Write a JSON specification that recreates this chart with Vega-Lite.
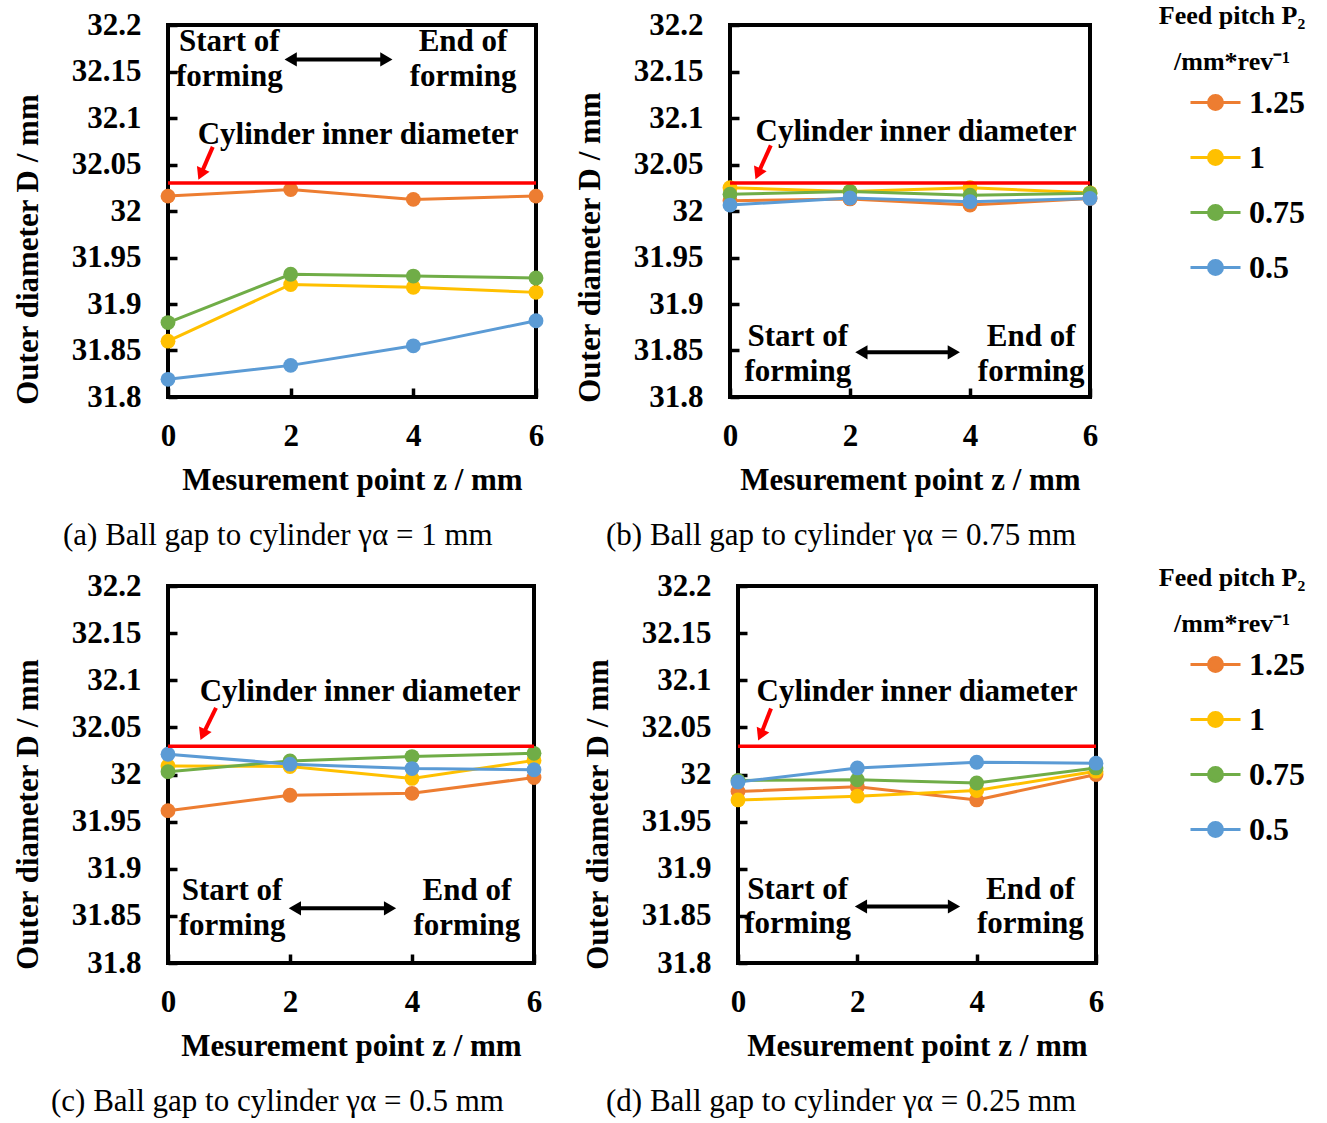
{
  "$schema": "https://vega.github.io/schema/vega-lite/v6.json",
  "background": "white",
  "padding": {"left": 10, "top": 3, "right": 5, "bottom": 5},
  "datasets": {
    "meas": [
      {"panel":"a","pitch":"1.25","z":0,"D":32.016},{"panel":"a","pitch":"1.25","z":2,"D":32.023},{"panel":"a","pitch":"1.25","z":4,"D":32.0125},{"panel":"a","pitch":"1.25","z":6,"D":32.016},
      {"panel":"a","pitch":"1","z":0,"D":31.860},{"panel":"a","pitch":"1","z":2,"D":31.921},{"panel":"a","pitch":"1","z":4,"D":31.918},{"panel":"a","pitch":"1","z":6,"D":31.9125},
      {"panel":"a","pitch":"0.75","z":0,"D":31.880},{"panel":"a","pitch":"0.75","z":2,"D":31.932},{"panel":"a","pitch":"0.75","z":4,"D":31.930},{"panel":"a","pitch":"0.75","z":6,"D":31.928},
      {"panel":"a","pitch":"0.5","z":0,"D":31.819},{"panel":"a","pitch":"0.5","z":2,"D":31.834},{"panel":"a","pitch":"0.5","z":4,"D":31.855},{"panel":"a","pitch":"0.5","z":6,"D":31.882},
      {"panel":"b","pitch":"1.25","z":0,"D":32.011},{"panel":"b","pitch":"1.25","z":2,"D":32.013},{"panel":"b","pitch":"1.25","z":4,"D":32.0064},{"panel":"b","pitch":"1.25","z":6,"D":32.0135},
      {"panel":"b","pitch":"1","z":0,"D":32.025},{"panel":"b","pitch":"1","z":2,"D":32.021},{"panel":"b","pitch":"1","z":4,"D":32.025},{"panel":"b","pitch":"1","z":6,"D":32.0195},
      {"panel":"b","pitch":"0.75","z":0,"D":32.018},{"panel":"b","pitch":"0.75","z":2,"D":32.021},{"panel":"b","pitch":"0.75","z":4,"D":32.017},{"panel":"b","pitch":"0.75","z":6,"D":32.019},
      {"panel":"b","pitch":"0.5","z":0,"D":32.0064},{"panel":"b","pitch":"0.5","z":2,"D":32.014},{"panel":"b","pitch":"0.5","z":4,"D":32.010},{"panel":"b","pitch":"0.5","z":6,"D":32.0135},
      {"panel":"c","pitch":"1.25","z":0,"D":31.9616},{"panel":"c","pitch":"1.25","z":2,"D":31.978},{"panel":"c","pitch":"1.25","z":4,"D":31.980},{"panel":"c","pitch":"1.25","z":6,"D":31.9968},
      {"panel":"c","pitch":"1","z":0,"D":32.009},{"panel":"c","pitch":"1","z":2,"D":32.0085},{"panel":"c","pitch":"1","z":4,"D":31.9958},{"panel":"c","pitch":"1","z":6,"D":32.015},
      {"panel":"c","pitch":"0.75","z":0,"D":32.003},{"panel":"c","pitch":"0.75","z":2,"D":32.0144},{"panel":"c","pitch":"0.75","z":4,"D":32.019},{"panel":"c","pitch":"0.75","z":6,"D":32.0225},
      {"panel":"c","pitch":"0.5","z":0,"D":32.0215},{"panel":"c","pitch":"0.5","z":2,"D":32.011},{"panel":"c","pitch":"0.5","z":4,"D":32.0063},{"panel":"c","pitch":"0.5","z":6,"D":32.005},
      {"panel":"d","pitch":"1.25","z":0,"D":31.982},{"panel":"d","pitch":"1.25","z":2,"D":31.987},{"panel":"d","pitch":"1.25","z":4,"D":31.973},{"panel":"d","pitch":"1.25","z":6,"D":32.000},
      {"panel":"d","pitch":"1","z":0,"D":31.973},{"panel":"d","pitch":"1","z":2,"D":31.977},{"panel":"d","pitch":"1","z":4,"D":31.983},{"panel":"d","pitch":"1","z":6,"D":32.0035},
      {"panel":"d","pitch":"0.75","z":0,"D":31.9937},{"panel":"d","pitch":"0.75","z":2,"D":31.9944},{"panel":"d","pitch":"0.75","z":4,"D":31.991},{"panel":"d","pitch":"0.75","z":6,"D":32.007},
      {"panel":"d","pitch":"0.5","z":0,"D":31.992},{"panel":"d","pitch":"0.5","z":2,"D":32.007},{"panel":"d","pitch":"0.5","z":4,"D":32.013},{"panel":"d","pitch":"0.5","z":6,"D":32.012}
    ],
    "cyl": [
      {"panel":"a","z":0,"z2":6,"D":32.03},{"panel":"b","z":0,"z2":6,"D":32.03},{"panel":"c","z":0,"z2":6,"D":32.03},{"panel":"d","z":0,"z2":6,"D":32.03}
    ],
    "redtail": [
      {"panel":"a","z":0.73,"D":32.069,"z2":0.535,"D2":32.0394},
      {"panel":"b","z":0.68,"D":32.0706,"z2":0.465,"D2":32.04},
      {"panel":"c","z":0.787,"D":32.0706,"z2":0.572,"D2":32.0423},
      {"panel":"d","z":0.553,"D":32.07,"z2":0.379,"D2":32.0418}
    ],
    "redhead": [
      {"panel":"a","z":0.535,"D":32.0394},
      {"panel":"b","z":0.465,"D":32.04},
      {"panel":"c","z":0.572,"D":32.0423},
      {"panel":"d","z":0.379,"D":32.0418}
    ],
    "darrow": [
      {"panel":"a","z":2.0,"z2":3.56,"D":32.163},
      {"panel":"b","z":2.19,"z2":3.73,"D":31.848},
      {"panel":"c","z":2.08,"z2":3.64,"D":31.858},
      {"panel":"d","z":2.06,"z2":3.62,"D":31.86}
    ],
    "dheads": [
      {"panel":"a","dir":"left","z":2.0,"D":32.163},{"panel":"a","dir":"right","z":3.56,"D":32.163},
      {"panel":"b","dir":"left","z":2.19,"D":31.848},{"panel":"b","dir":"right","z":3.73,"D":31.848},
      {"panel":"c","dir":"left","z":2.08,"D":31.858},{"panel":"c","dir":"right","z":3.64,"D":31.858},
      {"panel":"d","dir":"left","z":2.06,"D":31.86},{"panel":"d","dir":"right","z":3.62,"D":31.86}
    ],
    "txt": [
      {"panel":"a","label":"Start of","z":1.0,"D":32.182},{"panel":"a","label":"forming","z":1.0,"D":32.144},
      {"panel":"a","label":"End of","z":4.81,"D":32.182},{"panel":"a","label":"forming","z":4.81,"D":32.144},
      {"panel":"a","label":"Cylinder inner diameter","z":3.1,"D":32.082},
      {"panel":"b","label":"Start of","z":1.13,"D":31.864},{"panel":"b","label":"forming","z":1.13,"D":31.827},
      {"panel":"b","label":"End of","z":5.02,"D":31.864},{"panel":"b","label":"forming","z":5.02,"D":31.827},
      {"panel":"b","label":"Cylinder inner diameter","z":3.1,"D":32.085},
      {"panel":"c","label":"Start of","z":1.05,"D":31.876},{"panel":"c","label":"forming","z":1.05,"D":31.839},
      {"panel":"c","label":"End of","z":4.9,"D":31.876},{"panel":"c","label":"forming","z":4.9,"D":31.839},
      {"panel":"c","label":"Cylinder inner diameter","z":3.15,"D":32.088},
      {"panel":"d","label":"Start of","z":1.0,"D":31.877},{"panel":"d","label":"forming","z":1.0,"D":31.841},
      {"panel":"d","label":"End of","z":4.9,"D":31.877},{"panel":"d","label":"forming","z":4.9,"D":31.841},
      {"panel":"d","label":"Cylinder inner diameter","z":3.0,"D":32.088}
    ]
  },
  "resolve": {"legend": {"color": "independent"}},
  "spacing": 12,
  "vconcat": [
    {
      "bounds": "flush",
      "spacing": 194,
      "hconcat": [
        {
          "width": 368, "height": 372,
          "title": {"text": "(a) Ball gap to cylinder γα = 1 mm", "dx": -105},
          "encoding": {
            "x": {"field":"z","type":"quantitative","scale":{"domain":[0,6],"nice":false,"zero":false},"axis":{"values":[0,2,4,6],"title":"Mesurement point z / mm"}},
            "y": {"field":"D","type":"quantitative","scale":{"domain":[31.8,32.2],"nice":false,"zero":false},"axis":{"values":[31.8,31.85,31.9,31.95,32,32.05,32.1,32.15,32.2],"format":"~g","title":"Outer diameter D / mm","titleY":224}}
          },
          "layer": [
            {"data":{"name":"meas"},"transform":[{"filter":"datum.panel==='a'"}],"mark":{"type":"line","strokeWidth":3,"point":{"filled":true,"size":220,"opacity":1}},
             "encoding":{"color":{"field":"pitch","type":"nominal","scale":{"domain":["1.25","1","0.75","0.5"],"range":["#ED7D31","#FFC000","#70AD47","#5B9BD5"]},
               "legend":{"title":["Feed pitch P₂","/mm*rev⁻¹"],"orient":"none","legendX":991,"legendY":-22}}}},
            {"data":{"name":"cyl"},"transform":[{"filter":"datum.panel==='a'"}],"mark":{"type":"rule","color":"#FF0000","strokeWidth":3.5},"encoding":{"x2":{"field":"z2"}}},
            {"data":{"name":"redtail"},"transform":[{"filter":"datum.panel==='a'"}],"mark":{"type":"rule","color":"#FF0000","strokeWidth":4},"encoding":{"x2":{"field":"z2"},"y2":{"field":"D2"}}},
            {"data":{"name":"redhead"},"transform":[{"filter":"datum.panel==='a'"}],"mark":{"type":"point","shape":"triangle-down","filled":true,"color":"#FF0000","opacity":1,"size":190,"angle":24},"encoding":{}},
            {"data":{"name":"darrow"},"transform":[{"filter":"datum.panel==='a'"}],"mark":{"type":"rule","color":"black","strokeWidth":4},"encoding":{"x2":{"field":"z2"}}},
            {"data":{"name":"dheads"},"transform":[{"filter":"datum.panel==='a'"}],"mark":{"type":"point","filled":true,"color":"black","opacity":1,"size":200},"encoding":{"shape":{"field":"dir","type":"nominal","scale":{"domain":["left","right"],"range":["triangle-left","triangle-right"]},"legend":null}}},
            {"data":{"name":"txt"},"transform":[{"filter":"datum.panel==='a'"}],"mark":{"type":"text","fontSize":31,"fontWeight":"bold","color":"black"},"encoding":{"text":{"field":"label"}}}
          ]
        },
        {
          "width": 360, "height": 372,
          "title": {"text": "(b) Ball gap to cylinder γα = 0.75 mm", "dx": -124},
          "encoding": {
            "x": {"field":"z","type":"quantitative","scale":{"domain":[0,6],"nice":false,"zero":false},"axis":{"values":[0,2,4,6],"title":"Mesurement point z / mm"}},
            "y": {"field":"D","type":"quantitative","scale":{"domain":[31.8,32.2],"nice":false,"zero":false},"axis":{"values":[31.8,31.85,31.9,31.95,32,32.05,32.1,32.15,32.2],"format":"~g","title":"Outer diameter D / mm","titleY":222}}
          },
          "layer": [
            {"data":{"name":"meas"},"transform":[{"filter":"datum.panel==='b'"}],"mark":{"type":"line","strokeWidth":3,"point":{"filled":true,"size":220,"opacity":1}},
             "encoding":{"color":{"field":"pitch","type":"nominal","scale":{"domain":["1.25","1","0.75","0.5"],"range":["#ED7D31","#FFC000","#70AD47","#5B9BD5"]},
               "legend":{"title":["Feed pitch P₂","/mm*rev⁻¹"],"orient":"none","legendX":991,"legendY":-22}}}},
            {"data":{"name":"cyl"},"transform":[{"filter":"datum.panel==='b'"}],"mark":{"type":"rule","color":"#FF0000","strokeWidth":3.5},"encoding":{"x2":{"field":"z2"}}},
            {"data":{"name":"redtail"},"transform":[{"filter":"datum.panel==='b'"}],"mark":{"type":"rule","color":"#FF0000","strokeWidth":4},"encoding":{"x2":{"field":"z2"},"y2":{"field":"D2"}}},
            {"data":{"name":"redhead"},"transform":[{"filter":"datum.panel==='b'"}],"mark":{"type":"point","shape":"triangle-down","filled":true,"color":"#FF0000","opacity":1,"size":190,"angle":24},"encoding":{}},
            {"data":{"name":"darrow"},"transform":[{"filter":"datum.panel==='b'"}],"mark":{"type":"rule","color":"black","strokeWidth":4},"encoding":{"x2":{"field":"z2"}}},
            {"data":{"name":"dheads"},"transform":[{"filter":"datum.panel==='b'"}],"mark":{"type":"point","filled":true,"color":"black","opacity":1,"size":200},"encoding":{"shape":{"field":"dir","type":"nominal","scale":{"domain":["left","right"],"range":["triangle-left","triangle-right"]},"legend":null}}},
            {"data":{"name":"txt"},"transform":[{"filter":"datum.panel==='b'"}],"mark":{"type":"text","fontSize":31,"fontWeight":"bold","color":"black"},"encoding":{"text":{"field":"label"}}}
          ]
        }
      ]
    },
    {
      "bounds": "flush",
      "spacing": 204,
      "hconcat": [
        {
          "width": 366, "height": 377,
          "title": {"text": "(c) Ball gap to cylinder γα = 0.5 mm", "dx": -117},
          "encoding": {
            "x": {"field":"z","type":"quantitative","scale":{"domain":[0,6],"nice":false,"zero":false},"axis":{"values":[0,2,4,6],"title":"Mesurement point z / mm"}},
            "y": {"field":"D","type":"quantitative","scale":{"domain":[31.8,32.2],"nice":false,"zero":false},"axis":{"values":[31.8,31.85,31.9,31.95,32,32.05,32.1,32.15,32.2],"format":"~g","title":"Outer diameter D / mm","titleY":228}}
          },
          "layer": [
            {"data":{"name":"meas"},"transform":[{"filter":"datum.panel==='c'"}],"mark":{"type":"line","strokeWidth":3,"point":{"filled":true,"size":220,"opacity":1}},
             "encoding":{"color":{"field":"pitch","type":"nominal","scale":{"domain":["1.25","1","0.75","0.5"],"range":["#ED7D31","#FFC000","#70AD47","#5B9BD5"]},
               "legend":{"title":["Feed pitch P₂","/mm*rev⁻¹"],"orient":"none","legendX":991,"legendY":-21}}}},
            {"data":{"name":"cyl"},"transform":[{"filter":"datum.panel==='c'"}],"mark":{"type":"rule","color":"#FF0000","strokeWidth":3.5},"encoding":{"x2":{"field":"z2"}}},
            {"data":{"name":"redtail"},"transform":[{"filter":"datum.panel==='c'"}],"mark":{"type":"rule","color":"#FF0000","strokeWidth":4},"encoding":{"x2":{"field":"z2"},"y2":{"field":"D2"}}},
            {"data":{"name":"redhead"},"transform":[{"filter":"datum.panel==='c'"}],"mark":{"type":"point","shape":"triangle-down","filled":true,"color":"#FF0000","opacity":1,"size":190,"angle":24},"encoding":{}},
            {"data":{"name":"darrow"},"transform":[{"filter":"datum.panel==='c'"}],"mark":{"type":"rule","color":"black","strokeWidth":4},"encoding":{"x2":{"field":"z2"}}},
            {"data":{"name":"dheads"},"transform":[{"filter":"datum.panel==='c'"}],"mark":{"type":"point","filled":true,"color":"black","opacity":1,"size":200},"encoding":{"shape":{"field":"dir","type":"nominal","scale":{"domain":["left","right"],"range":["triangle-left","triangle-right"]},"legend":null}}},
            {"data":{"name":"txt"},"transform":[{"filter":"datum.panel==='c'"}],"mark":{"type":"text","fontSize":31,"fontWeight":"bold","color":"black"},"encoding":{"text":{"field":"label"}}}
          ]
        },
        {
          "width": 358, "height": 377,
          "title": {"text": "(d) Ball gap to cylinder γα = 0.25 mm", "dx": -132},
          "encoding": {
            "x": {"field":"z","type":"quantitative","scale":{"domain":[0,6],"nice":false,"zero":false},"axis":{"values":[0,2,4,6],"title":"Mesurement point z / mm"}},
            "y": {"field":"D","type":"quantitative","scale":{"domain":[31.8,32.2],"nice":false,"zero":false},"axis":{"values":[31.8,31.85,31.9,31.95,32,32.05,32.1,32.15,32.2],"format":"~g","title":"Outer diameter D / mm","titleY":228}}
          },
          "layer": [
            {"data":{"name":"meas"},"transform":[{"filter":"datum.panel==='d'"}],"mark":{"type":"line","strokeWidth":3,"point":{"filled":true,"size":220,"opacity":1}},
             "encoding":{"color":{"field":"pitch","type":"nominal","scale":{"domain":["1.25","1","0.75","0.5"],"range":["#ED7D31","#FFC000","#70AD47","#5B9BD5"]},
               "legend":{"title":["Feed pitch P₂","/mm*rev⁻¹"],"orient":"none","legendX":991,"legendY":-21}}}},
            {"data":{"name":"cyl"},"transform":[{"filter":"datum.panel==='d'"}],"mark":{"type":"rule","color":"#FF0000","strokeWidth":3.5},"encoding":{"x2":{"field":"z2"}}},
            {"data":{"name":"redtail"},"transform":[{"filter":"datum.panel==='d'"}],"mark":{"type":"rule","color":"#FF0000","strokeWidth":4},"encoding":{"x2":{"field":"z2"},"y2":{"field":"D2"}}},
            {"data":{"name":"redhead"},"transform":[{"filter":"datum.panel==='d'"}],"mark":{"type":"point","shape":"triangle-down","filled":true,"color":"#FF0000","opacity":1,"size":190,"angle":24},"encoding":{}},
            {"data":{"name":"darrow"},"transform":[{"filter":"datum.panel==='d'"}],"mark":{"type":"rule","color":"black","strokeWidth":4},"encoding":{"x2":{"field":"z2"}}},
            {"data":{"name":"dheads"},"transform":[{"filter":"datum.panel==='d'"}],"mark":{"type":"point","filled":true,"color":"black","opacity":1,"size":200},"encoding":{"shape":{"field":"dir","type":"nominal","scale":{"domain":["left","right"],"range":["triangle-left","triangle-right"]},"legend":null}}},
            {"data":{"name":"txt"},"transform":[{"filter":"datum.panel==='d'"}],"mark":{"type":"text","fontSize":31,"fontWeight":"bold","color":"black"},"encoding":{"text":{"field":"label"}}}
          ]
        }
      ]
    }
  ],
  "config": {
    "font": "Liberation Serif",
    "view": {"stroke": "black", "strokeWidth": 4},
    "axis": {"domain": false, "grid": false, "ticks": true, "tickColor": "black", "tickWidth": 3.5, "tickSize": -9,
      "labelFont": "Liberation Serif", "labelFontSize": 31, "labelFontWeight": "bold", "labelColor": "black", "labelFlush": false, "labelOverlap": false, "labelBound": false,
      "titleFont": "Liberation Serif", "titleFontSize": 31, "titleFontWeight": "bold", "titleColor": "black"},
    "axisX": {"labelPadding": 33, "titlePadding": 14},
    "axisY": {"labelPadding": 36, "titlePadding": 27},
    "title": {"orient": "bottom", "anchor": "start", "frame": "group", "offset": 26, "font": "Liberation Serif", "fontSize": 31, "fontWeight": "normal", "color": "black"},
    "legend": {
      "titleFont": "Liberation Serif", "titleFontSize": 26, "titleFontWeight": "bold", "titleColor": "black", "titleLineHeight": 46, "titleAlign": "center", "titleAnchor": "middle", "titlePadding": 1,
      "labelFont": "Liberation Serif", "labelFontSize": 32, "labelFontWeight": "bold", "labelColor": "black", "labelOffset": 7,
      "symbolType": "M-1,0H1M-0.28,0A0.28,0.28,0,1,1,0.28,0A0.28,0.28,0,1,1,-0.28,0Z",
      "symbolSize": 2500, "symbolStrokeWidth": 3, "symbolOffset": 30, "rowPadding": 12,
      "symbolFillColor": "#888", "symbolOpacity": 1
    }
  }
}
